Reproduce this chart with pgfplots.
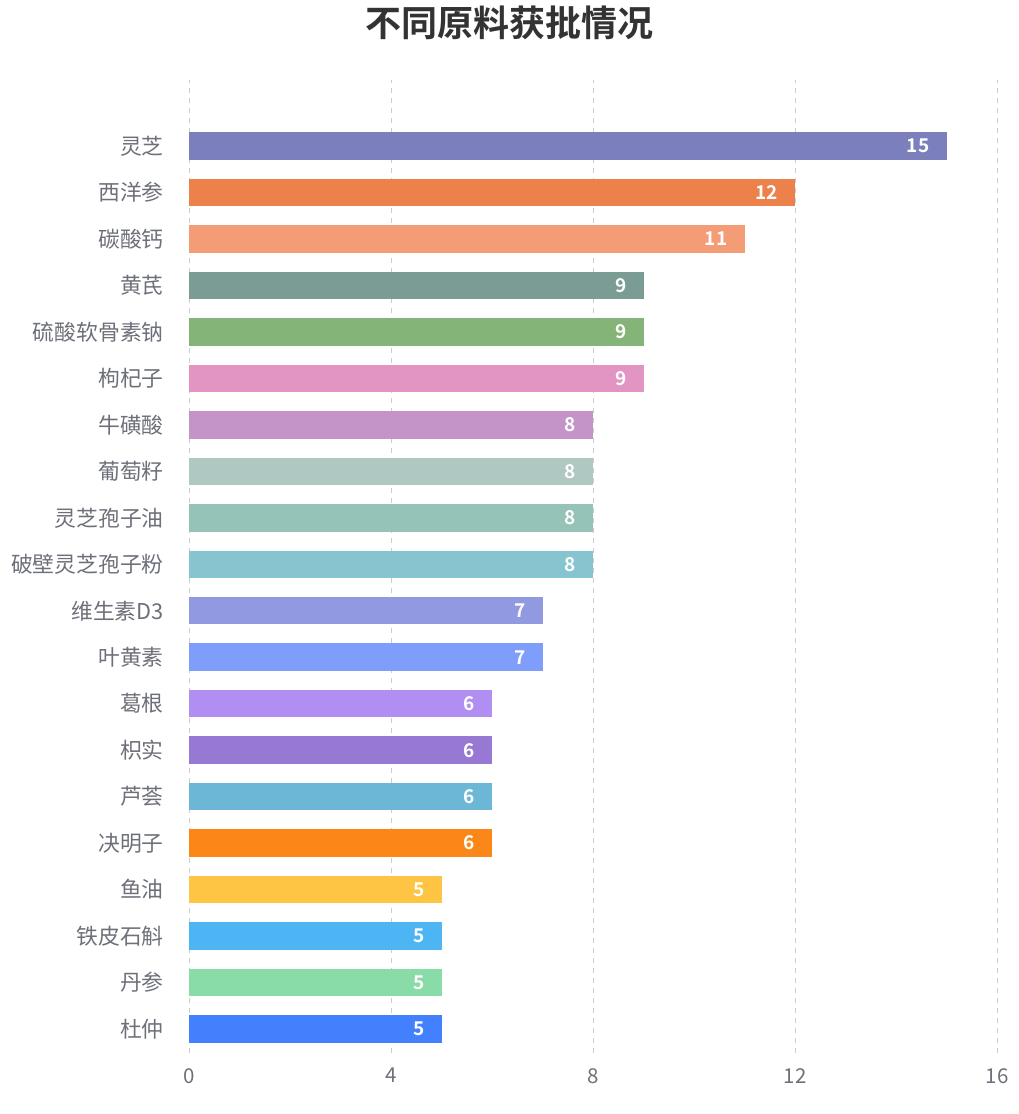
\documentclass[border=0pt]{standalone}
\usepackage{fontspec}
\setmainfont{Noto Sans CJK SC}[BoldFont={Noto Sans CJK SC Bold}]
\usepackage{pgfplots}
\pgfplotsset{compat=1.18}
\definecolor{c1}{HTML}{7B80BD}
\definecolor{c2}{HTML}{EC814B}
\definecolor{c3}{HTML}{F39C76}
\definecolor{c4}{HTML}{7A9C94}
\definecolor{c5}{HTML}{84B477}
\definecolor{c6}{HTML}{E295C3}
\definecolor{c7}{HTML}{C494C8}
\definecolor{c8}{HTML}{AFC8C2}
\definecolor{c9}{HTML}{95C3B8}
\definecolor{c10}{HTML}{86C5CF}
\definecolor{c11}{HTML}{9199E0}
\definecolor{c12}{HTML}{7F9DFB}
\definecolor{c13}{HTML}{B08EF2}
\definecolor{c14}{HTML}{9778D3}
\definecolor{c15}{HTML}{6BB7D5}
\definecolor{c16}{HTML}{FB8719}
\definecolor{c17}{HTML}{FEC443}
\definecolor{c18}{HTML}{4DB5F4}
\definecolor{c19}{HTML}{89DCA8}
\definecolor{c20}{HTML}{4280FE}
\definecolor{labgray}{HTML}{6E7079}
\definecolor{gridgray}{HTML}{CCCCCC}
\definecolor{titlec}{HTML}{333333}
\begin{document}
\begin{tikzpicture}
\path[use as bounding box] (0,0) rectangle (1018pt,1114pt);
\node[font=\fontsize{36}{40}\selectfont\bfseries, text=titlec, anchor=center] at (509pt,1091pt) {不同原料获批情况};
\begin{axis}[
  at={(189pt,61pt)}, anchor=south west,
  width=808pt, height=973pt, scale only axis,
  xmin=0, xmax=16, ymin=-0.516, ymax=20.42,
  xbar, bar shift=0pt, bar width=27.5pt,
  xtick={0,4,8,12,16},
  ytick={0,...,19},
  yticklabels={杜仲,丹参,铁皮石斛,鱼油,决明子,芦荟,枳实,葛根,叶黄素,维生素D3,破壁灵芝孢子粉,灵芝孢子油,葡萄籽,牛磺酸,枸杞子,硫酸软骨素钠,黄芪,碳酸钙,西洋参,灵芝},
  axis line style={draw=none},
  major tick length=0pt,
  tick style={draw=none},
  xmajorgrids,
  major grid style={draw=gridgray, line width=0.9pt, dash pattern=on 5pt off 5pt},
  /pgf/number format/assume math mode=true,
  yticklabel style={font=\fontsize{21.8}{26}\selectfont, text=labgray, inner sep=0pt, anchor=east, xshift=-25pt},
  xticklabel style={font=\fontsize{20.5}{24}\selectfont, text=labgray, inner sep=0pt, anchor=north, yshift=-15pt},
  nodes near coords,
  nodes near coords align={anchor=east},
  every node near coord/.append style={anchor=east, inner sep=0pt, xshift=-17pt, text=white, font=\fontsize{19}{22}\selectfont\bfseries},
  clip=false,
]
\addplot[fill=c1, draw=none] coordinates {(15,19)};
\addplot[fill=c2, draw=none] coordinates {(12,18)};
\addplot[fill=c3, draw=none] coordinates {(11,17)};
\addplot[fill=c4, draw=none] coordinates {(9,16)};
\addplot[fill=c5, draw=none] coordinates {(9,15)};
\addplot[fill=c6, draw=none] coordinates {(9,14)};
\addplot[fill=c7, draw=none] coordinates {(8,13)};
\addplot[fill=c8, draw=none] coordinates {(8,12)};
\addplot[fill=c9, draw=none] coordinates {(8,11)};
\addplot[fill=c10, draw=none] coordinates {(8,10)};
\addplot[fill=c11, draw=none] coordinates {(7,9)};
\addplot[fill=c12, draw=none] coordinates {(7,8)};
\addplot[fill=c13, draw=none] coordinates {(6,7)};
\addplot[fill=c14, draw=none] coordinates {(6,6)};
\addplot[fill=c15, draw=none] coordinates {(6,5)};
\addplot[fill=c16, draw=none] coordinates {(6,4)};
\addplot[fill=c17, draw=none] coordinates {(5,3)};
\addplot[fill=c18, draw=none] coordinates {(5,2)};
\addplot[fill=c19, draw=none] coordinates {(5,1)};
\addplot[fill=c20, draw=none] coordinates {(5,0)};
\end{axis}
\end{tikzpicture}
\end{document}
